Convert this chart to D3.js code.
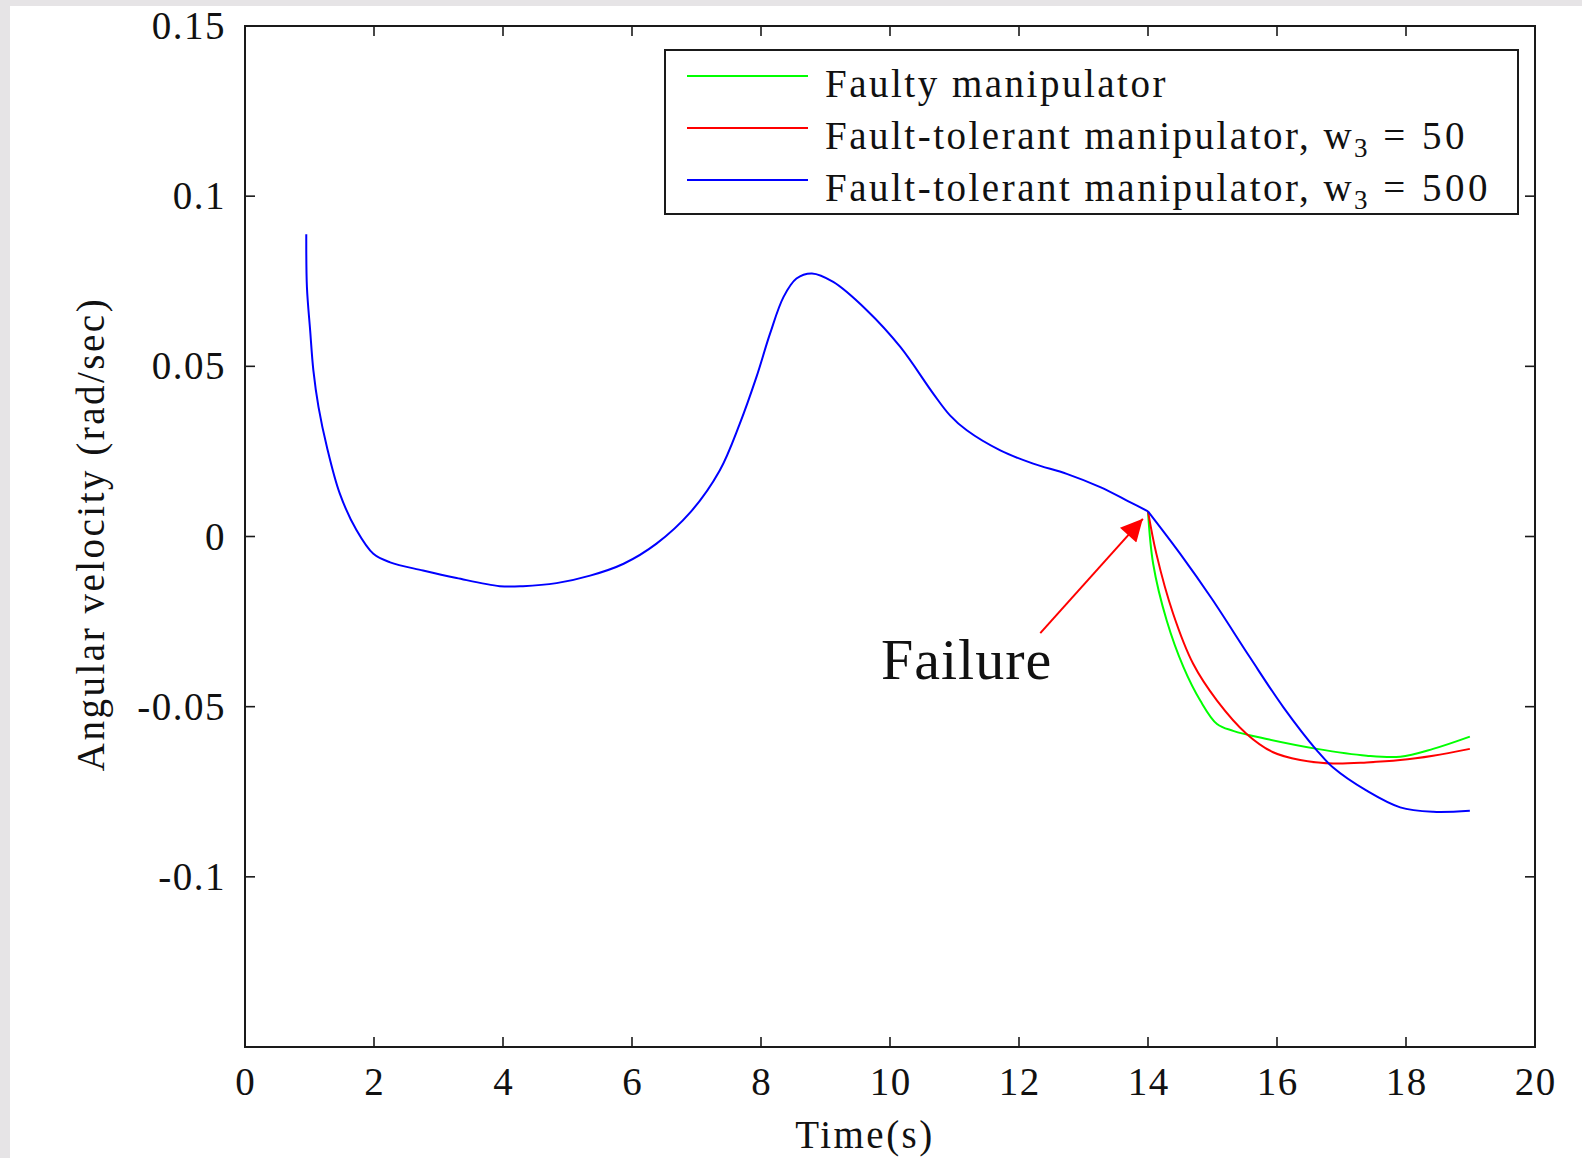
<!DOCTYPE html>
<html>
<head>
<meta charset="utf-8">
<script src="https://cdn.jsdelivr.net/npm/d3@7"></script>
<style>
  html, body { margin: 0; padding: 0; background: #e6e4e6; }
  svg { display: block; }
  text { font-family: "Liberation Serif", "DejaVu Serif", serif; fill: #111; }
</style>
</head>
<body>
<div id="chart"></div>
<script>
// shared trajectory of all three runs, up to the failure at t = 14 s
const timeShared = [0.95, 0.96, 1.01, 1.06, 1.14, 1.27, 1.47, 1.73, 1.99, 2.25, 2.76, 3.28, 3.95, 4.31,
  4.83, 5.35, 5.87, 6.38, 6.90, 7.36, 7.67, 7.93, 8.14, 8.35, 8.55, 8.79, 9.12, 9.64, 10.16,
  10.67, 10.93, 11.19, 11.71, 12.22, 12.74, 13.26, 13.72, 14.0];
const velShared = [0.0888, 0.0733, 0.0606, 0.0488, 0.038, 0.0263, 0.0126, 0.0018, -0.0051, -0.0076,
  -0.0100, -0.0122, -0.0146, -0.0146, -0.0137, -0.0115, -0.0080, -0.0021, 0.0070, 0.0194,
  0.0331, 0.0469, 0.0596, 0.0704, 0.0758, 0.0773, 0.0748, 0.0665, 0.0557, 0.0420, 0.0356, 0.0312,
  0.0253, 0.0214, 0.0184, 0.0145, 0.0101, 0.0074];

// after the failure
const timeFaulty = [14.0, 14.08, 14.29, 14.55, 14.81, 15.07, 15.32, 15.84, 16.62, 17.39, 17.91, 18.42, 18.99];
const velFaulty = [0.0074, -0.008, -0.0247, -0.0384, -0.0482, -0.0551, -0.0571, -0.0595, -0.0624, -0.0644, -0.0647, -0.0624, -0.0588];

const timeW50 = [14.0, 14.13, 14.39, 14.70, 15.07, 15.53, 15.94, 16.36, 16.87, 17.39, 17.91, 18.42, 18.99];
const velW50 = [0.0074, -0.0051, -0.0227, -0.0374, -0.0482, -0.058, -0.0634, -0.0657, -0.0667, -0.0664, -0.0657, -0.0644, -0.0624];

const timeW500 = [14.0, 14.5, 14.99, 15.58, 16.10, 16.62, 16.87, 17.39, 17.91, 18.42, 18.99];
const velW500 = [0.0074, -0.0051, -0.0183, -0.0355, -0.0502, -0.0629, -0.0679, -0.0747, -0.0796, -0.0809, -0.0806];

const seriesNames = ["Faulty manipulator", "Fault-tolerant manipulator, w", "Fault-tolerant manipulator, w"];
const seriesSuffix = ["", " = 50", " = 500"];
const seriesColors = ["#00ff00", "#ff0000", "#0000ff"];

const xTicks = [0, 2, 4, 6, 8, 10, 12, 14, 16, 18, 20];
const yTicks = [-0.1, -0.05, 0, 0.05, 0.1, 0.15];
const yTickLabels = ["-0.1", "-0.05", "0", "0.05", "0.1", "0.15"];

// annotation (data units)
const arrowFrom = [12.33, -0.0284];
const arrowTo = [13.92, 0.0052];
const failureLabel = [9.86, -0.0418];

const width = 1582, height = 1158;
const plotLeft = 245, plotRight = 1535, plotTop = 26, plotBottom = 1047;

const svg = d3.select("#chart").append("svg")
  .attr("width", width)
  .attr("height", height);

svg.append("rect").attr("x", 10).attr("y", 6)
  .attr("width", width - 10).attr("height", height - 6)
  .attr("fill", "#fff");

const x = d3.scaleLinear().domain([0, 20]).range([plotLeft, plotRight]);
const y = d3.scaleLinear().domain([-0.15, 0.15]).range([plotBottom, plotTop]);

const zip = (ts, vs) => ts.map((t, i) => [t, vs[i]]);

const line = d3.line()
  .x((d) => x(d[0]))
  .y((d) => y(d[1]))
  .curve(d3.curveCatmullRom.alpha(0.5));

const tails = [zip(timeFaulty, velFaulty), zip(timeW50, velW50), zip(timeW500, velW500)];

// ==== CURVES ====
svg.selectAll(".tail")
  .data(tails)
  .enter()
  .append("path")
  .attr("d", line)
  .attr("fill", "none")
  .attr("stroke", (d, i) => seriesColors[i])
  .attr("stroke-width", 2);

svg.append("path")
  .attr("d", line(zip(timeShared, velShared)))
  .attr("fill", "none")
  .attr("stroke", seriesColors[2])
  .attr("stroke-width", 2);

// ==== AXES (box with inward ticks) ====
const axisColor = "#1a1a1a";
svg.append("rect")
  .attr("x", plotLeft).attr("y", plotTop)
  .attr("width", plotRight - plotLeft).attr("height", plotBottom - plotTop)
  .attr("fill", "none").attr("stroke", axisColor).attr("stroke-width", 2);

const tickLen = 10;
xTicks.forEach((t) => {
  svg.append("line").attr("x1", x(t)).attr("x2", x(t)).attr("y1", plotBottom).attr("y2", plotBottom - tickLen)
    .attr("stroke", axisColor).attr("stroke-width", 1.6);
  svg.append("line").attr("x1", x(t)).attr("x2", x(t)).attr("y1", plotTop).attr("y2", plotTop + tickLen)
    .attr("stroke", axisColor).attr("stroke-width", 1.6);
});
yTicks.forEach((v) => {
  svg.append("line").attr("x1", plotLeft).attr("x2", plotLeft + tickLen).attr("y1", y(v)).attr("y2", y(v))
    .attr("stroke", axisColor).attr("stroke-width", 1.6);
  svg.append("line").attr("x1", plotRight).attr("x2", plotRight - tickLen).attr("y1", y(v)).attr("y2", y(v))
    .attr("stroke", axisColor).attr("stroke-width", 1.6);
});

svg.selectAll(".xLabel")
  .data(xTicks)
  .enter()
  .append("text")
  .attr("x", (d) => x(d) + 0.8)
  .attr("y", plotBottom + 48)
  .attr("text-anchor", "middle")
  .attr("font-size", "39px")
  .attr("letter-spacing", "1.5px")
  .text((d) => d);

svg.selectAll(".yLabel")
  .data(yTicks)
  .enter()
  .append("text")
  .attr("x", plotLeft - 19)
  .attr("y", (d) => y(d) + 13)
  .attr("text-anchor", "end")
  .attr("font-size", "39px")
  .attr("letter-spacing", "1.5px")
  .text((d, i) => yTickLabels[i]);

svg.append("text")
  .attr("x", 865)
  .attr("y", 1148)
  .attr("text-anchor", "middle")
  .attr("font-size", "39px")
  .attr("letter-spacing", "2.5px")
  .text("Time(s)");

svg.append("text")
  .attr("transform", "translate(104,534) rotate(-90)")
  .attr("text-anchor", "middle")
  .attr("font-size", "39px")
  .attr("letter-spacing", "2.5px")
  .text("Angular velocity (rad/sec)");

// ==== LEGEND ====
const legend = svg.append("g");
legend.append("rect")
  .attr("x", 665).attr("y", 50)
  .attr("width", 1518 - 665).attr("height", 214 - 50)
  .attr("fill", "#fff").attr("stroke", axisColor).attr("stroke-width", 2);

seriesNames.forEach((name, i) => {
  const ly = 76 + i * 52;
  legend.append("line")
    .attr("x1", 687).attr("x2", 808).attr("y1", ly).attr("y2", ly)
    .attr("stroke", seriesColors[i]).attr("stroke-width", 2);
  const t = legend.append("text")
    .attr("x", 825).attr("y", ly + 21)
    .attr("font-size", "39px")
    .attr("letter-spacing", "2.5px")
    .text(name);
  if (i > 0) {
    t.append("tspan").attr("dy", 8).attr("font-size", "27px").text("3");
    t.append("tspan").attr("dy", -8).attr("letter-spacing", "3.5px").text(seriesSuffix[i]);
  }
});

// ==== FAILURE ANNOTATION ====
svg.append("defs").append("marker")
  .attr("id", "head")
  .attr("viewBox", "0 0 10 10")
  .attr("refX", 10).attr("refY", 5)
  .attr("markerWidth", 30).attr("markerHeight", 22)
  .attr("markerUnits", "userSpaceOnUse")
  .attr("orient", "auto")
  .append("path")
  .attr("d", "M0,0 L10,5 L0,10 Z")
  .attr("fill", "#ff0000");

svg.append("line")
  .attr("x1", x(arrowFrom[0])).attr("y1", y(arrowFrom[1]))
  .attr("x2", x(arrowTo[0])).attr("y2", y(arrowTo[1]))
  .attr("stroke", "#ff0000").attr("stroke-width", 2)
  .attr("marker-end", "url(#head)");

svg.append("text")
  .attr("x", x(failureLabel[0]))
  .attr("y", y(failureLabel[1]))
  .attr("font-size", "58px")
  .attr("letter-spacing", "1px")
  .text("Failure");
</script>
</body>
</html>
